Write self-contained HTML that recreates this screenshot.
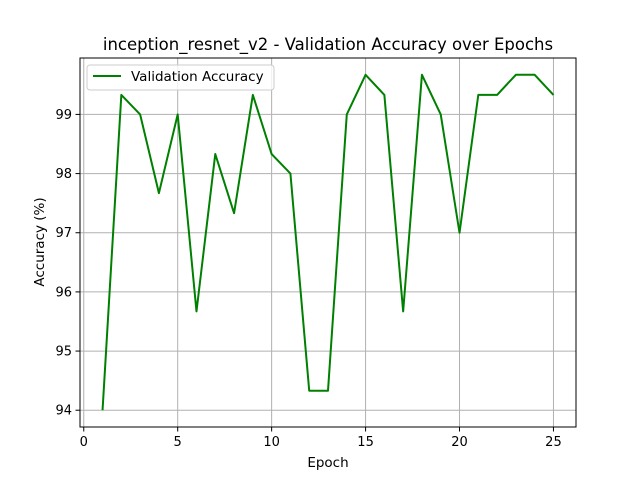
<!DOCTYPE html>
<html><head><meta charset="utf-8"><style>
body{margin:0;background:#fff}
svg{display:block;font-family:"DejaVu Sans","Liberation Sans",sans-serif}
</style></head><body>
<svg id="chart" width="640" height="480">
<rect width="640" height="480" fill="#fff"/>
<text x="328" y="50" text-anchor="middle" font-size="16.5">inception_resnet_v2 - Validation Accuracy over Epochs</text>
<g id="grid"></g>
<g id="ticks"></g>
<polyline id="line" fill="none" stroke="#008000" stroke-width="2" stroke-linejoin="round"/>
<rect x="80" y="58" width="496" height="369" fill="none" stroke="#000" stroke-width="1"/>
<text x="328" y="467" text-anchor="middle" font-size="13.5">Epoch</text>
<text transform="translate(44,242) rotate(-90)" text-anchor="middle" font-size="13.5">Accuracy (%)</text>
<g>
<rect x="87" y="65" width="187" height="25" rx="3" fill="#fff" fill-opacity="0.8" stroke="#ccc"/>
<line x1="93" y1="76" x2="121" y2="76" stroke="#008000" stroke-width="2"/>
<text x="131" y="81" font-size="13.5">Validation Accuracy</text>
</g>
</svg>
<script>
const epochs=[1,2,3,4,5,6,7,8,9,10,11,12,13,14,15,16,17,18,19,20,21,22,23,24,25];
const accuracy=[94,99.33,99,97.67,99,95.67,98.33,97.33,99.33,98.33,98,94.33,94.33,99,99.67,99.33,95.67,99.67,99,97,99.33,99.33,99.67,99.67,99.33];
const xTicks=[0,5,10,15,20,25];
const yTicks=[94,95,96,97,98,99];
const L=80,R=576,T=58,B=427;
const xmin=Math.min(...epochs),xmax=Math.max(...epochs),xm=(xmax-xmin)*0.05;
const ymin=Math.min(...accuracy),ymax=Math.max(...accuracy),ym=(ymax-ymin)*0.05;
const sx=v=>L+(v-(xmin-xm))/((xmax+xm)-(xmin-xm))*(R-L);
const sy=v=>B-(v-(ymin-ym))/((ymax+ym)-(ymin-ym))*(B-T);
const NS="http://www.w3.org/2000/svg";
const grid=document.getElementById('grid'),ticks=document.getElementById('ticks');
function mk(tag,attrs,parent){const e=document.createElementNS(NS,tag);for(const k in attrs)e.setAttribute(k,attrs[k]);parent.appendChild(e);return e;}
xTicks.forEach(t=>{const x=sx(t);
const g=mk('line',{x1:x,x2:x,y1:T,y2:B,stroke:'#b0b0b0','stroke-width':1},grid);


mk('line',{x1:x,x2:x,y1:B,y2:B+4.5,stroke:'#000','stroke-width':1},ticks);
const tx=mk('text',{x:x,y:B+19,'text-anchor':'middle','font-size':13},ticks);tx.textContent=t;

});
yTicks.forEach(t=>{const y=sy(t);
const g=mk('line',{x1:L,x2:R,y1:y,y2:y,stroke:'#b0b0b0','stroke-width':1},grid);


mk('line',{x1:L-4.5,x2:L,y1:y,y2:y,stroke:'#000','stroke-width':1},ticks);
const tx=mk('text',{x:L-8,y:y+4.5,'text-anchor':'end','font-size':13},ticks);tx.textContent=t;

});
document.getElementById('line').setAttribute('points',epochs.map((e,i)=>sx(e)+','+sy(accuracy[i])).join(' '));
</script>
</body></html>
